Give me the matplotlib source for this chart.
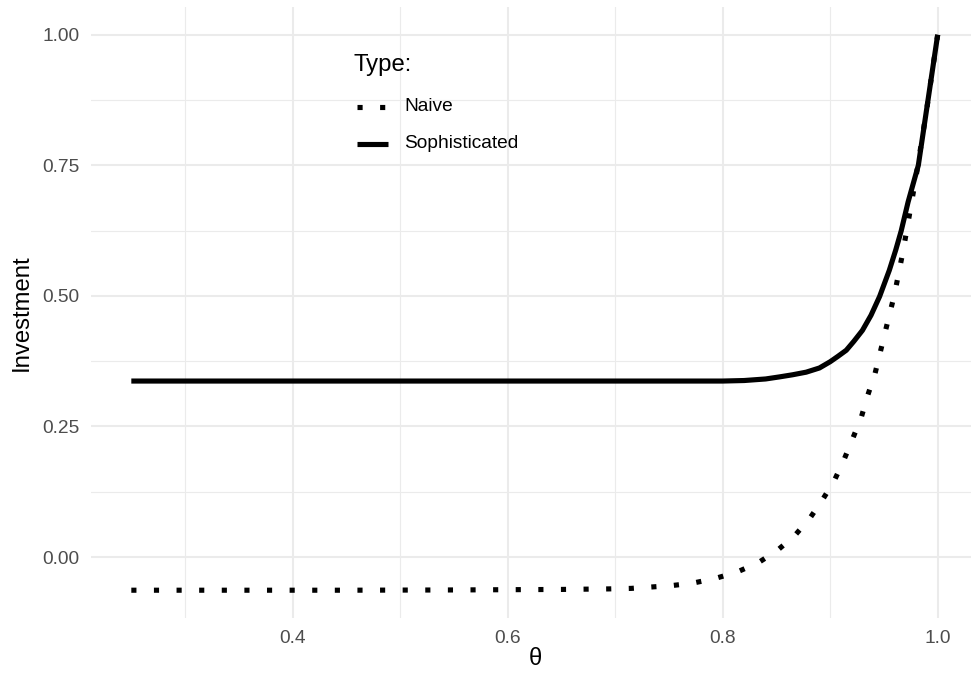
import numpy as np
import matplotlib
matplotlib.use("Agg")
import matplotlib.pyplot as plt
from matplotlib.lines import Line2D

# Werte
theta_naive = [0.25, 0.35, 0.45, 0.55, 0.65, 0.694, 0.715, 0.736, 0.751, 0.772,
               0.793, 0.813, 0.833, 0.851, 0.867, 0.881, 0.893, 0.904, 0.913,
               0.921, 0.929, 0.935, 0.9418, 0.9468, 0.9545, 0.9595, 0.9638,
               0.9678, 0.9715, 0.980, 0.990, 1.0]
inv_naive = [-0.0635, -0.0635, -0.0635, -0.063, -0.062, -0.061, -0.060, -0.057,
             -0.055, -0.050, -0.041, -0.029, -0.011, 0.013, 0.041, 0.074, 0.110,
             0.147, 0.187, 0.227, 0.268, 0.310, 0.352, 0.394, 0.459, 0.500,
             0.544, 0.586, 0.629, 0.73, 0.86, 1.0]

theta_soph = [0.25, 0.40, 0.60, 0.80, 0.82, 0.84, 0.853, 0.865, 0.8777, 0.89,
              0.90, 0.907, 0.915, 0.922, 0.930, 0.938, 0.946, 0.955, 0.961,
              0.966, 0.9725, 0.982, 0.991, 1.0]
inv_soph = [0.337, 0.337, 0.337, 0.337, 0.338, 0.341, 0.345, 0.349, 0.354, 0.362,
            0.374, 0.384, 0.396, 0.413, 0.434, 0.463, 0.499, 0.549, 0.588,
            0.624, 0.68, 0.75, 0.875, 1.0]

type_labels = ["Naive", "Sophisticated"]
x_ticks = [0.4, 0.6, 0.8, 1.0]
y_ticks = [0.0, 0.25, 0.5, 0.75, 1.0]
y_tick_labels = ["0.00", "0.25", "0.50", "0.75", "1.00"]

plt.rcParams["font.family"] = ["Liberation Sans", "DejaVu Sans"]

W, H = 971, 675
fig = plt.figure(figsize=(W / 100, H / 100), dpi=100)
left, right, top, bottom = 91, 978, 7, 618
ax = fig.add_axes([left / W, (H - bottom) / H, (right - left) / W, (bottom - top) / H])

lw = 3.7
dots = (0, (1, 3.4))
ax.plot(theta_naive, inv_naive, color="black", lw=lw, linestyle=dots,
        dash_capstyle="butt", solid_capstyle="butt", solid_joinstyle="round")
ax.plot(theta_soph, inv_soph, color="black", lw=lw, solid_capstyle="butt",
        solid_joinstyle="round")

ax.set_xlim(0.2125, 1.0375)
ax.set_ylim(-0.1167, 1.0532)

# Gitter wie theme_minimal
for v in [0.3, 0.5, 0.7, 0.9]:
    ax.axvline(v, color="#EBEBEB", lw=0.8, zorder=0)
for v in [-0.125, 0.125, 0.375, 0.625, 0.875]:
    ax.axhline(v, color="#EBEBEB", lw=0.8, zorder=0)
for v in x_ticks:
    ax.axvline(v, color="#EBEBEB", lw=1.5, zorder=0)
for v in y_ticks:
    ax.axhline(v, color="#EBEBEB", lw=1.5, zorder=0)

ax.set_xticks(x_ticks)
ax.set_xticklabels([f"{v:.1f}" for v in x_ticks])
ax.set_yticks(y_ticks)
ax.set_yticklabels(y_tick_labels)
ax.tick_params(length=0, labelsize=13.8, labelcolor="#4D4D4D", pad=8.5)
for s in ax.spines.values():
    s.set_visible(False)

fig.text(535 / W, 1 - 659 / H, "θ", fontsize=17.2, ha="center", va="center")
fig.text(21.7 / W, 1 - 312.5 / H, "Investment", fontsize=17.2, rotation=90,
         ha="center", va="center")

# Legende innerhalb des Panels
fig.text(354 / W, 1 - 65 / H, "Type:", fontsize=17.2, ha="left", va="center")
key_y = [106.7, 144]
styles = [dots, "-"]
for lab, ky, ls in zip(type_labels, key_y, styles):
    fig.add_artist(Line2D([356.7 / W, 388 / W], [1 - ky / H, 1 - ky / H],
                          color="black", lw=lw, linestyle=ls,
                          dash_capstyle="butt", solid_capstyle="butt"))
    fig.text(404 / W, 1 - ky / H, lab, fontsize=13.8, ha="left", va="center")

fig.savefig("out.png", dpi=100, facecolor="white")
